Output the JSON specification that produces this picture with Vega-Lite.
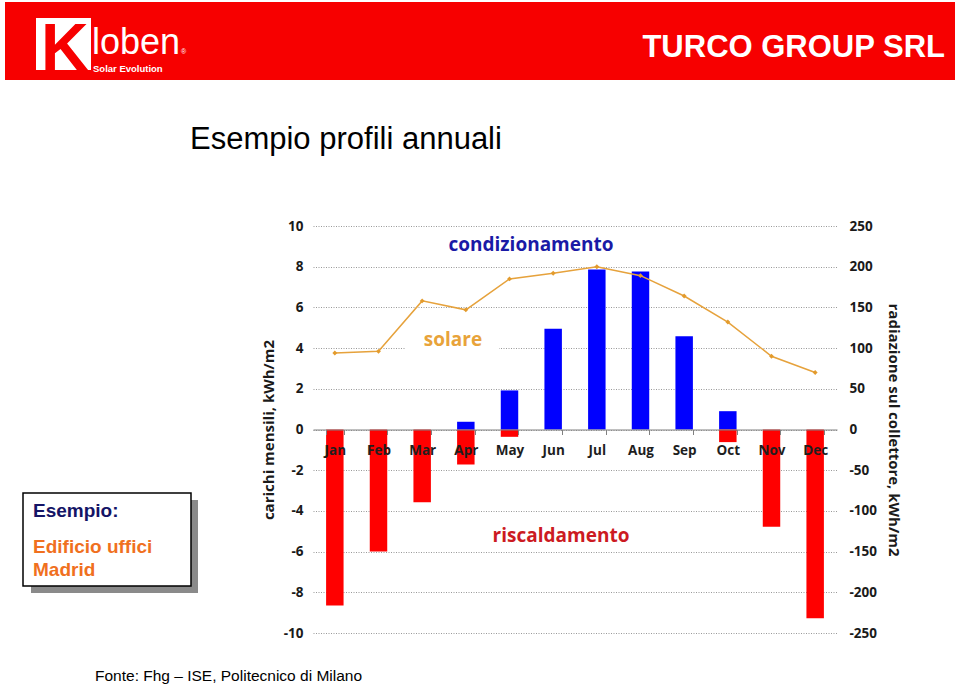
{
  "$schema": "https://vega.github.io/schema/vega-lite/v6.json",
  "width": 524,
  "height": 407,
  "autosize": "none",
  "padding": {"left": 313, "top": 226, "right": 123, "bottom": 53},
  "background": "white",
  "config": {
    "view": {"stroke": null},
    "axis": {
      "labelFont": "Open Sans",
      "labelFontWeight": "bold",
      "titleFont": "Open Sans",
      "titleFontWeight": "bold",
      "labelColor": "#1a1a1a",
      "titleColor": "#1a1a1a"
    }
  },
  "datasets": {
    "carichi": [
      {"month": "Jan", "tipo": "riscaldamento", "carico": -8.65},
      {"month": "Feb", "tipo": "riscaldamento", "carico": -6.0},
      {"month": "Mar", "tipo": "riscaldamento", "carico": -3.57},
      {"month": "Apr", "tipo": "riscaldamento", "carico": -1.72},
      {"month": "Apr", "tipo": "condizionamento", "carico": 0.38},
      {"month": "May", "tipo": "riscaldamento", "carico": -0.36},
      {"month": "May", "tipo": "condizionamento", "carico": 1.92},
      {"month": "Jun", "tipo": "condizionamento", "carico": 4.95},
      {"month": "Jul", "tipo": "condizionamento", "carico": 7.86},
      {"month": "Aug", "tipo": "condizionamento", "carico": 7.76},
      {"month": "Sep", "tipo": "condizionamento", "carico": 4.58},
      {"month": "Oct", "tipo": "condizionamento", "carico": 0.9},
      {"month": "Oct", "tipo": "riscaldamento", "carico": -0.62},
      {"month": "Nov", "tipo": "riscaldamento", "carico": -4.78},
      {"month": "Dec", "tipo": "riscaldamento", "carico": -9.27}
    ],
    "solare": [
      {"month": "Jan", "radiazione": 94},
      {"month": "Feb", "radiazione": 96},
      {"month": "Mar", "radiazione": 158},
      {"month": "Apr", "radiazione": 147},
      {"month": "May", "radiazione": 185},
      {"month": "Jun", "radiazione": 192},
      {"month": "Jul", "radiazione": 200},
      {"month": "Aug", "radiazione": 189},
      {"month": "Sep", "radiazione": 164},
      {"month": "Oct", "radiazione": 132},
      {"month": "Nov", "radiazione": 90},
      {"month": "Dec", "radiazione": 70}
    ]
  },
  "layer": [
    {
      "layer": [
        {
          "data": {"values": [{}]},
          "mark": {"type": "rect", "color": "#f70000"},
          "encoding": {
            "x": {"value": -308}, "x2": {"value": 642},
            "y": {"value": -224}, "y2": {"value": -146}
          }
        },
        {
          "data": {"values": [{}]},
          "mark": {"type": "rect", "color": "#ffffff"},
          "encoding": {
            "x": {"value": -277}, "x2": {"value": -222},
            "y": {"value": -208}, "y2": {"value": -156}
          }
        },
        {
          "data": {"values": [{}]},
          "mark": {"type": "text", "text": "K", "font": "Liberation Sans", "fontWeight": "bold", "fontSize": 66, "color": "#f70000", "align": "left", "baseline": "alphabetic"},
          "encoding": {"x": {"value": -272}, "y": {"value": -156}}
        },
        {
          "data": {"values": [{}]},
          "mark": {"type": "text", "text": "loben", "font": "Liberation Sans", "fontSize": 36, "color": "#ffffff", "align": "left", "baseline": "alphabetic"},
          "encoding": {"x": {"value": -221}, "y": {"value": -172}}
        },
        {
          "data": {"values": [{}]},
          "mark": {"type": "text", "text": "®", "font": "Liberation Sans", "fontSize": 7, "color": "#ffffff", "align": "left", "baseline": "alphabetic"},
          "encoding": {"x": {"value": -132}, "y": {"value": -172}}
        },
        {
          "data": {"values": [{}]},
          "mark": {"type": "text", "text": "Solar Evolution", "font": "Liberation Sans", "fontWeight": "bold", "fontSize": 9.5, "color": "#ffffff", "align": "left", "baseline": "alphabetic"},
          "encoding": {"x": {"value": -220}, "y": {"value": -154}}
        },
        {
          "data": {"values": [{}]},
          "mark": {"type": "text", "text": "TURCO GROUP SRL", "font": "Liberation Sans", "fontWeight": "bold", "fontSize": 31, "color": "#ffffff", "align": "right", "baseline": "alphabetic"},
          "encoding": {"x": {"value": 632}, "y": {"value": -169}}
        },
        {
          "data": {"values": [{}]},
          "mark": {"type": "text", "text": "Esempio profili annuali", "font": "Liberation Sans", "fontSize": 31, "color": "#000000", "align": "left", "baseline": "alphabetic"},
          "encoding": {"x": {"value": -123}, "y": {"value": -77}}
        },
        {
          "data": {"values": [{}]},
          "mark": {"type": "rect", "color": "#8a8a8a"},
          "encoding": {
            "x": {"value": -282}, "x2": {"value": -115},
            "y": {"value": 274}, "y2": {"value": 367}
          }
        },
        {
          "data": {"values": [{}]},
          "mark": {"type": "rect", "fill": "#ffffff", "stroke": "#000000", "strokeWidth": 1.5},
          "encoding": {
            "x": {"value": -290}, "x2": {"value": -122},
            "y": {"value": 267}, "y2": {"value": 360}
          }
        },
        {
          "data": {"values": [{}]},
          "mark": {"type": "text", "text": "Esempio:", "font": "Liberation Sans", "fontWeight": "bold", "fontSize": 19, "color": "#141466", "align": "left", "baseline": "alphabetic"},
          "encoding": {"x": {"value": -280}, "y": {"value": 291}}
        },
        {
          "data": {"values": [{}]},
          "mark": {"type": "text", "text": "Edificio uffici", "font": "Liberation Sans", "fontWeight": "bold", "fontSize": 19, "color": "#f0701e", "align": "left", "baseline": "alphabetic"},
          "encoding": {"x": {"value": -280}, "y": {"value": 327}}
        },
        {
          "data": {"values": [{}]},
          "mark": {"type": "text", "text": "Madrid", "font": "Liberation Sans", "fontWeight": "bold", "fontSize": 19, "color": "#f0701e", "align": "left", "baseline": "alphabetic"},
          "encoding": {"x": {"value": -280}, "y": {"value": 350}}
        },
        {
          "data": {"values": [{}]},
          "mark": {"type": "text", "text": "Fonte: Fhg – ISE, Politecnico di Milano", "font": "Liberation Sans", "fontSize": 15.5, "color": "#000000", "align": "left", "baseline": "alphabetic"},
          "encoding": {"x": {"value": -218}, "y": {"value": 455}}
        },
        {
          "data": {"values": [{}]},
          "mark": {"type": "rect", "color": "#ffffff"},
          "encoding": {
            "x": {"value": 93}, "x2": {"value": 186},
            "y": {"value": 104}, "y2": {"value": 128}
          }
        },
        {
          "data": {"name": "carichi"},
          "mark": {"type": "bar"},
          "encoding": {
            "x": {
              "field": "month",
              "type": "nominal",
              "scale": {"domain": ["Jan", "Feb", "Mar", "Apr", "May", "Jun", "Jul", "Aug", "Sep", "Oct", "Nov", "Dec"], "paddingInner": 0.6, "paddingOuter": 0.3},
              "axis": {
                "orient": "bottom",
                "offset": -203.5,
                "title": null,
                "labelAngle": 0,
                "tickBand": "extent",
                "domainColor": "#808080",
                "tickColor": "#808080",
                "tickSize": 5,
                "labelFontSize": 13.5,
                "labelPadding": 9,
                "labelColor": "#1e1e1e",
                "zindex": 1
              }
            },
            "y": {
              "field": "carico",
              "type": "quantitative",
              "stack": null,
              "scale": {"domain": [-10, 10], "nice": false},
              "axis": {
                "values": [-10, -8, -6, -4, -2, 0, 2, 4, 6, 8, 10],
                "labelExpr": "replace(datum.label, '\u2212', '-')",
                "grid": true,
                "gridDash": [1, 1.5],
                "gridColor": "#999999",
                "ticks": false,
                "domain": false,
                "labelPadding": 10,
                "labelFontSize": 13.5,
                "title": "carichi mensili, kWh/m2",
                "titleFontSize": 15,
                "titlePadding": 7
              }
            },
            "color": {
              "field": "tipo",
              "type": "nominal",
              "scale": {"domain": ["condizionamento", "riscaldamento"], "range": ["#0000ff", "#ff0000"]},
              "legend": null
            }
          }
        },
        {
          "data": {"values": [{}]},
          "mark": {"type": "text", "text": "condizionamento", "font": "Open Sans", "fontWeight": "bold", "fontSize": 19, "color": "#1a1aa6", "align": "center", "baseline": "alphabetic"},
          "encoding": {"x": {"value": 218}, "y": {"value": 25}}
        },
        {
          "data": {"values": [{}]},
          "mark": {"type": "text", "text": "solare", "font": "Open Sans", "fontWeight": "bold", "fontSize": 19, "color": "#e8a33a", "align": "center", "baseline": "alphabetic"},
          "encoding": {"x": {"value": 140}, "y": {"value": 120}}
        },
        {
          "data": {"values": [{}]},
          "mark": {"type": "text", "text": "riscaldamento", "font": "Open Sans", "fontWeight": "bold", "fontSize": 19, "color": "#cc1a22", "align": "center", "baseline": "alphabetic"},
          "encoding": {"x": {"value": 248}, "y": {"value": 316}}
        }
      ]
    },
    {
      "data": {"name": "solare"},
      "mark": {
        "type": "line",
        "color": "#e6a23c",
        "strokeWidth": 1.5,
        "point": {"shape": "diamond", "size": 24, "filled": true, "color": "#e39b2c"}
      },
      "encoding": {
        "x": {
          "field": "month",
          "type": "nominal",
          "scale": {"domain": ["Jan", "Feb", "Mar", "Apr", "May", "Jun", "Jul", "Aug", "Sep", "Oct", "Nov", "Dec"], "paddingInner": 0.6, "paddingOuter": 0.3},
          "axis": {
            "orient": "bottom",
            "offset": -203.5,
            "title": null,
            "labelAngle": 0,
            "tickBand": "extent",
            "domainColor": "#808080",
            "tickColor": "#808080",
            "tickSize": 5,
            "labelFontSize": 13.5,
            "labelPadding": 9,
            "labelColor": "#1e1e1e",
            "zindex": 1
          }
        },
        "y": {
          "field": "radiazione",
          "type": "quantitative",
          "scale": {"domain": [-250, 250], "nice": false},
          "axis": {
            "orient": "right",
            "values": [-250, -200, -150, -100, -50, 0, 50, 100, 150, 200, 250],
            "labelExpr": "replace(datum.label, '\u2212', '-')",
            "grid": false,
            "ticks": false,
            "domain": false,
            "labelPadding": 12,
            "labelFontSize": 13.5,
            "title": "radiazione sul collettore, kWh/m2",
            "titleFontSize": 15,
            "titlePadding": 9
          }
        }
      }
    }
  ],
  "resolve": {"scale": {"y": "independent"}}
}
